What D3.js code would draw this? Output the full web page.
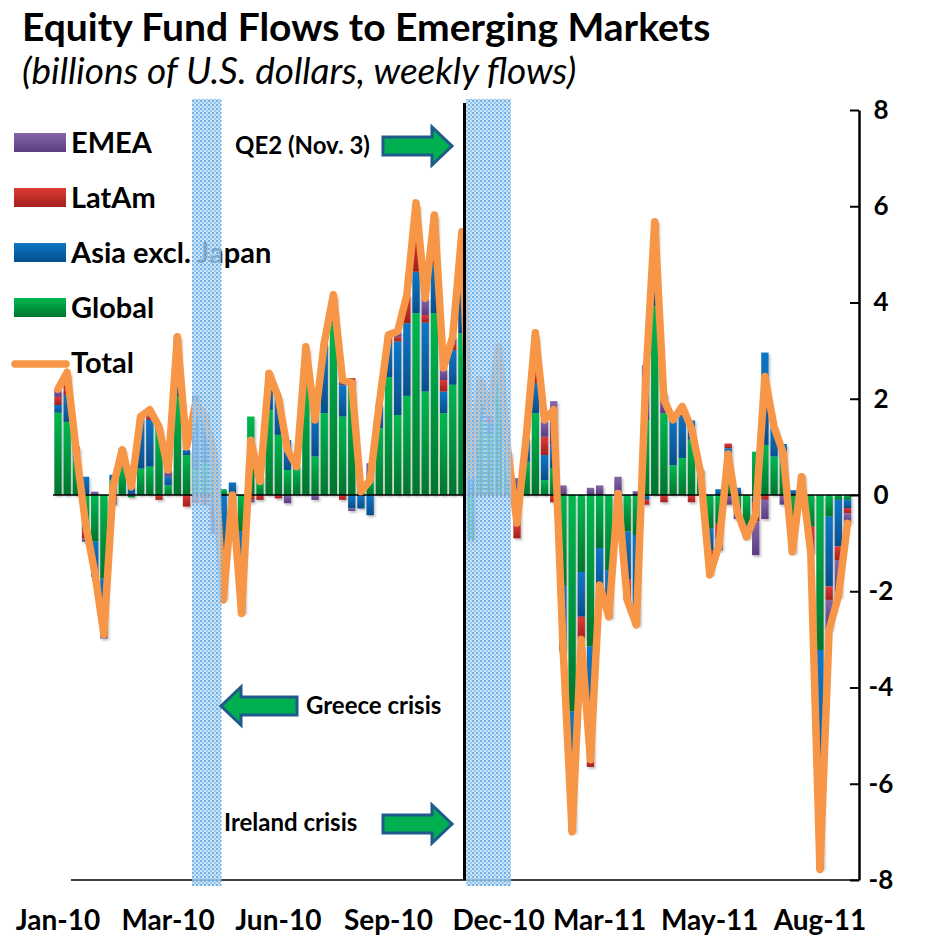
<!DOCTYPE html>
<html>
<head>
<meta charset="utf-8">
<script src="https://cdn.jsdelivr.net/npm/d3@7"></script>
<style>
body { margin: 0; background: #fff; }
svg { font-family: Lato, "Open Sans", "Liberation Sans", sans-serif; }
</style>
</head>
<body>
<svg id="chart" width="930" height="940"></svg>
<script>
// weekly flows, billions of US$, week 0 = first week of Jan-10
var global = [1.71,1.52,0.76,-0.73,-0.97,-1.73,0.31,0.59,-0.05,0.55,0.59,1.35,0.20,2.04,0.83,0.52,0.66,0.62,0.12,-0.60,
  -0.75,1.63,0.30,1.77,1.25,0.52,0.55,2.25,0.80,1.70,3.57,1.63,2.25,0.15,0.38,1.39,2.45,1.66,2.06,3.78,
  2.15,3.78,1.70,2.29,3.36,-0.94,1.56,1.28,2.18,0.80,-0.30,0.69,1.70,0.31,0.55,-1.90,-4.50,-1.60,-3.15,-1.10,
  -1.56,-0.30,-0.76,-0.83,1.56,3.92,1.70,0.62,0.77,1.15,0.45,-0.70,-0.60,0.80,-0.30,-0.60,0.90,1.04,0.80,0.76,
  -0.55,0.31,-0.66,-3.22,-0.45,-0.10,-0.10];
var asia = [0.16,0.56,0.10,0.38,-0.73,-1.15,0.11,0.35,0.20,1.08,0.97,0.00,0.18,1.15,0.11,1.45,1.04,0.20,-1.90,0.26,
  -1.60,0.00,0.10,0.70,0.79,0.62,0.05,0.80,0.97,1.40,0.50,0.65,-0.28,-0.28,-0.42,0.50,0.70,1.53,1.51,0.86,
  1.43,1.00,0.45,0.72,1.70,0.43,0.60,0.21,0.90,0.10,-0.30,0.49,0.63,0.52,0.50,-1.30,-2.35,-0.93,-2.30,-0.95,
  -0.90,0.00,-1.00,-1.83,-0.10,1.50,0.00,1.05,0.97,0.40,0.00,-0.45,0.12,0.17,0.15,-0.10,-0.15,1.92,0.60,0.30,
  0.10,0.00,0.00,-4.50,-1.45,-0.97,-0.17];
var latam = [0.17,0.21,0.14,-0.17,0.00,-0.05,-0.12,0.00,0.00,0.00,0.07,-0.10,0.00,0.00,-0.24,-0.17,-0.20,-0.50,-0.10,-0.05,
  0.00,-0.10,-0.10,0.03,-0.07,0.00,0.00,0.00,0.00,0.05,0.05,-0.10,0.18,0.00,0.00,0.00,0.14,0.10,0.59,0.90,
  0.16,0.60,0.24,0.14,0.20,0.00,0.10,0.11,0.00,0.00,-0.30,0.00,0.30,0.38,-0.15,-0.05,-0.10,-0.47,-0.20,0.00,
  -0.05,0.00,-0.42,-0.05,-0.10,0.10,-0.15,0.00,0.05,-0.15,0.08,-0.30,-0.30,0.10,0.00,-0.15,-0.40,-0.10,0.00,0.00,
  -0.18,0.11,-0.55,-0.05,-0.28,-0.28,-0.11];
var emea = [0.14,0.24,0.00,-0.07,0.07,-0.05,-0.08,0.03,0.02,0.00,0.07,0.07,0.14,0.10,0.00,0.10,0.00,-0.30,-0.15,0.00,
  -0.10,-0.05,0.00,0.05,0.00,-0.17,0.00,0.00,-0.10,0.00,0.04,0.10,-0.05,0.00,0.28,0.00,0.04,0.11,0.00,0.50,
  0.35,0.44,0.24,0.14,0.20,0.00,0.10,0.05,0.00,0.00,0.35,0.00,0.70,0.35,0.90,0.20,-0.05,0.00,0.15,0.20,
  -0.05,0.38,0.00,0.08,1.14,0.16,0.40,0.00,0.05,0.00,0.00,-0.20,-0.25,-0.20,-0.20,-0.05,-0.70,-0.40,0.00,-0.20,
  -0.47,0.00,0.00,0.00,-0.62,-0.76,-0.21];
var total = [2.2,2.55,0.9,-0.6,-1.6,-2.9,0.17,0.94,0.17,1.63,1.77,1.42,0.52,3.29,1.0,1.9,1.63,0.87,-2.18,0.0,
  -2.46,1.14,0.28,2.53,2.04,0.94,0.59,3.08,1.56,3.16,4.16,2.39,2.33,0.07,0.31,1.9,3.33,3.4,4.16,6.07,
  4.09,5.82,2.64,3.29,5.47,0.41,2.39,1.7,3.08,0.9,-0.58,1.2,3.37,1.56,1.77,-3.1,-7.0,-3.0,-5.5,-1.87,
  -2.53,0.03,-2.18,-2.7,2.3,5.68,1.98,1.56,1.84,1.39,0.46,-1.66,-1.04,0.85,-0.35,-0.87,-0.4,2.46,1.42,0.87,
  -1.18,0.38,-1.2,-7.78,-2.8,-2.11,-0.59];

var tickWeeks = [0, 12, 24, 36, 48, 59, 71, 83];
var tickLabels = ["Jan-10", "Mar-10", "Jun-10", "Sep-10", "Dec-10", "Mar-11", "May-11", "Aug-11"];
var yTicks = [8, 6, 4, 2, 0, -2, -4, -6, -8];

var seriesKeys = ["global", "asia", "latam", "emea"];
var legendNames = ["EMEA", "LatAm", "Asia excl. Japan", "Global", "Total"];

// shaded events, in weeks
var greeceWeeks = [15.1, 18.3];
var irelandWeeks = [44.95, 49.85];
var qe2Week = 44.78;

var svg = d3.select("#chart");
var n = total.length;

var rows = d3.range(n).map(function(i) {
  return {global: global[i], asia: asia[i], latam: latam[i], emea: emea[i]};
});

var x = d3.scaleBand().domain(d3.range(n)).range([53.4, 852.1]).paddingInner(0.2).paddingOuter(0.1);
var xw = d3.scaleLinear().domain([0, n]).range([53.4, 852.1]);
var y = d3.scaleLinear().domain([-8, 8]).range([880, 110]);
function xc(i) { return x(i) + x.bandwidth() / 2; }

var colors = {
  emea:   ["#8467a8", "#5a3c80"],
  latam:  ["#dc3b36", "#a2201d"],
  asia:   ["#0b77c6", "#064e8a"],
  global: ["#00b850", "#00752e"]
};

var defs = svg.append("defs");
Object.keys(colors).forEach(function(k) {
  var g = defs.append("linearGradient").attr("id", "grad-" + k)
    .attr("x1", 0).attr("y1", 0).attr("x2", 0).attr("y2", 1);
  g.append("stop").attr("offset", "0%").attr("stop-color", colors[k][0]);
  g.append("stop").attr("offset", "100%").attr("stop-color", colors[k][1]);
});

var shadow = defs.append("filter").attr("id", "shadow")
  .attr("x", "-30%").attr("y", "-10%").attr("width", "160%").attr("height", "130%");
shadow.append("feDropShadow").attr("dx", 1.5).attr("dy", 2).attr("stdDeviation", 1.2)
  .attr("flood-color", "#000").attr("flood-opacity", 0.25);

var hatch = defs.append("pattern").attr("id", "hatch")
  .attr("patternUnits", "userSpaceOnUse").attr("width", 4).attr("height", 4);
hatch.append("rect").attr("width", 4).attr("height", 4).attr("fill", "#b6d7f3").attr("opacity", 0.7);
hatch.append("rect").attr("width", 2).attr("height", 2).attr("fill", "#73b0e4");
hatch.append("rect").attr("x", 2).attr("y", 2).attr("width", 2).attr("height", 2).attr("fill", "#95c6ef");

// stacked bars
var stack = d3.stack().keys(seriesKeys).offset(d3.stackOffsetDiverging);
var layers = stack(rows);

svg.append("g").attr("filter", "url(#shadow)")
  .selectAll("g")
  .data(layers)
  .enter()
  .append("g")
  .attr("fill", function(d) { return "url(#grad-" + d.key + ")"; })
  .selectAll("rect")
  .data(function(d) { return d.map(function(v, i) { return {i: i, y0: v[0], y1: v[1]}; }); })
  .enter()
  .append("rect")
  .attr("x", function(d) { return x(d.i); })
  .attr("width", x.bandwidth())
  .attr("y", function(d) { return y(Math.max(d.y0, d.y1)); })
  .attr("height", function(d) { return Math.abs(y(d.y0) - y(d.y1)); });

// zero line and bottom line
svg.append("line").attr("x1", 53).attr("x2", 859).attr("y1", y(0)).attr("y2", y(0))
  .attr("stroke", "#000").attr("stroke-width", 1.5);
svg.append("line").attr("x1", 71).attr("x2", 859).attr("y1", y(-8)).attr("y2", y(-8))
  .attr("stroke", "#000").attr("stroke-width", 1.5);

// total line
var line = d3.line().x(function(d, i) { return xc(i); }).y(function(d) { return y(d); });
svg.append("path").datum(total)
  .attr("d", line)
  .attr("fill", "none")
  .attr("stroke", "#f79646")
  .attr("stroke-width", 7.5)
  .attr("stroke-linejoin", "round")
  .attr("stroke-linecap", "round");

// right axis
var yAxis = d3.axisRight(y).tickValues(yTicks).tickSize(-9).tickSizeOuter(0).tickPadding(22)
  .tickFormat(function(d) { return String(d); });
var ya = svg.append("g").attr("transform", "translate(859,0)").call(yAxis);
ya.select(".domain").attr("stroke", "#000").attr("stroke-width", 2.5);
ya.selectAll(".tick line").attr("stroke", "#000").attr("stroke-width", 2);
ya.selectAll(".tick text")
  .attr("text-anchor", "middle")
  .attr("fill", "#000")
  .style("font-family", "Lato, sans-serif")
  .style("font-size", "26px")
  .style("font-weight", "bold");

// x labels
svg.append("g").selectAll("text")
  .data(tickWeeks)
  .enter()
  .append("text")
  .attr("x", function(d) { return xc(d); })
  .attr("y", 930)
  .attr("text-anchor", "middle")
  .style("font-size", "28px")
  .style("font-weight", "bold")
  .text(function(d, k) { return tickLabels[k]; });

// title
svg.append("text").attr("x", 22).attr("y", 41)
  .style("font-size", "39px").style("font-weight", "bold")
  .text("Equity Fund Flows to Emerging Markets");
svg.append("text").attr("x", 22).attr("y", 84)
  .style("font-size", "37px").style("font-style", "italic")
  .text("(billions of U.S. dollars, weekly flows)");

// legend
var legendKeys = ["emea", "latam", "asia", "global", "total"];
var lg = svg.append("g").selectAll("g")
  .data(legendKeys)
  .enter()
  .append("g")
  .attr("transform", function(d, k) { return "translate(0," + (152 + k * 55) + ")"; });
lg.filter(function(d) { return d !== "total"; })
  .append("rect")
  .attr("x", 14).attr("y", -19).attr("width", 52).attr("height", 19)
  .attr("fill", function(d) { return "url(#grad-" + d + ")"; });
lg.filter(function(d) { return d === "total"; })
  .append("line")
  .attr("x1", 15).attr("x2", 66).attr("y1", -8).attr("y2", -8)
  .attr("stroke", "#f79646").attr("stroke-width", 7.5).attr("stroke-linecap", "round");
lg.append("text")
  .attr("x", 71).attr("y", 1)
  .style("font-size", "29px").style("font-weight", "bold")
  .text(function(d, k) { return legendNames[k]; });

// shaded crisis bands (drawn on top)
[greeceWeeks, irelandWeeks].forEach(function(w) {
  svg.append("rect")
    .attr("x", xw(w[0])).attr("width", xw(w[1]) - xw(w[0]))
    .attr("y", 99).attr("height", 787)
    .attr("fill", "url(#hatch)");
});
svg.append("line")
  .attr("x1", xw(qe2Week)).attr("x2", xw(qe2Week))
  .attr("y1", 103).attr("y2", y(-8))
  .attr("stroke", "#000").attr("stroke-width", 3);

// annotations with block arrows
function blockArrow(x0, x1, cy) {
  var dir = x1 > x0 ? 1 : -1, hl = 20 * dir, sh = 9, hh = 19;
  var p = d3.path();
  p.moveTo(x0, cy - sh);
  p.lineTo(x1 - hl, cy - sh);
  p.lineTo(x1 - hl, cy - hh);
  p.lineTo(x1, cy);
  p.lineTo(x1 - hl, cy + hh);
  p.lineTo(x1 - hl, cy + sh);
  p.lineTo(x0, cy + sh);
  p.closePath();
  return p.toString();
}
var notes = [
  {text: "QE2 (Nov. 3)", tx: 235, ty: 154, a0: 383, a1: 452, ay: 146},
  {text: "Greece crisis", tx: 306, ty: 714, a0: 297, a1: 221, ay: 706},
  {text: "Ireland crisis", tx: 224, ty: 831, a0: 383, a1: 452, ay: 824}
];
notes.forEach(function(d) {
  svg.append("text").attr("x", d.tx).attr("y", d.ty)
    .style("font-size", "24px").style("font-weight", "bold")
    .text(d.text);
  svg.append("path").attr("d", blockArrow(d.a0, d.a1, d.ay))
    .attr("fill", "#00b050").attr("stroke", "#1f5a8c").attr("stroke-width", 3)
    .attr("stroke-linejoin", "miter");
});
</script>
</body>
</html>
